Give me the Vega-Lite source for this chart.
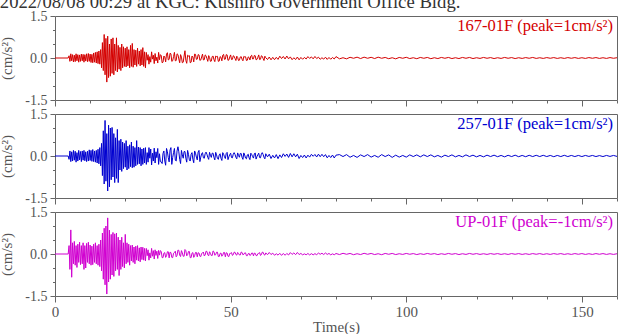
{
  "$schema": "https://vega.github.io/schema/vega-lite/v6.json",
  "padding": {"left": -1, "top": -8, "right": 0, "bottom": 0},
  "datasets": {
    "w": [
      {"t":0,"a":0,"b":0,"c":0},{"t":3.75,"a":0,"b":0,"c":0},
      {"t":4.0,"a":0.08,"b":-0.12,"c":0.3},{"t":4.25,"a":-0.12,"b":0.18,"c":-0.55},{"t":4.5,"a":0.15,"b":-0.2,"c":0.86},{"t":4.75,"a":-0.1,"b":0.15,"c":-0.83},
      {"t":5.0,"a":0.12,"b":-0.18,"c":0.4},{"t":5.25,"a":-0.14,"b":0.2,"c":-0.35},{"t":5.5,"a":0.1,"b":-0.15,"c":0.45},{"t":5.75,"a":-0.13,"b":0.17,"c":-0.4},
      {"t":6.0,"a":0.15,"b":-0.22,"c":0.3},{"t":6.25,"a":-0.1,"b":0.12,"c":-0.48},{"t":6.5,"a":0.12,"b":-0.18,"c":0.35},{"t":6.75,"a":-0.15,"b":0.2,"c":-0.3},
      {"t":7.0,"a":0.11,"b":-0.14,"c":0.42},{"t":7.25,"a":-0.12,"b":0.16,"c":-0.38},{"t":7.5,"a":0.14,"b":-0.2,"c":0.3},{"t":7.75,"a":-0.1,"b":0.18,"c":-0.35},
      {"t":8.0,"a":0.13,"b":-0.15,"c":0.4},{"t":8.25,"a":-0.15,"b":0.2,"c":-0.55},{"t":8.5,"a":0.12,"b":-0.17,"c":0.3},{"t":8.75,"a":-0.11,"b":0.15,"c":-0.5},
      {"t":9.0,"a":0.15,"b":-0.2,"c":0.38},{"t":9.25,"a":-0.13,"b":0.17,"c":-0.3},{"t":9.5,"a":0.16,"b":-0.18,"c":0.42},{"t":9.75,"a":-0.12,"b":0.22,"c":-0.35},
      {"t":10.0,"a":0.14,"b":-0.16,"c":0.32},{"t":10.25,"a":-0.16,"b":0.2,"c":-0.4},{"t":10.5,"a":0.13,"b":-0.19,"c":0.28},{"t":10.75,"a":-0.17,"b":0.23,"c":-0.38},
      {"t":11.0,"a":0.18,"b":-0.2,"c":0.35},{"t":11.25,"a":-0.15,"b":0.18,"c":-0.3},{"t":11.5,"a":0.2,"b":-0.22,"c":0.4},{"t":11.75,"a":-0.18,"b":0.2,"c":-0.35},
      {"t":12.0,"a":0.22,"b":-0.25,"c":0.3},{"t":12.25,"a":-0.2,"b":0.24,"c":-0.4},{"t":12.5,"a":0.25,"b":-0.28,"c":0.35},{"t":12.75,"a":-0.22,"b":0.3,"c":-0.45},
      {"t":13.0,"a":0.3,"b":-0.35,"c":0.5},{"t":13.25,"a":-0.35,"b":0.45,"c":-0.6},{"t":13.5,"a":0.55,"b":-0.7,"c":0.75},{"t":13.75,"a":-0.45,"b":0.9,"c":-0.9},
      {"t":14.0,"a":0.84,"b":-1.0,"c":0.92},{"t":14.25,"a":-0.6,"b":1.27,"c":-1.1},{"t":14.5,"a":0.7,"b":-0.9,"c":1.0},{"t":14.75,"a":-0.86,"b":0.8,"c":-1.43},
      {"t":15.0,"a":0.78,"b":-1.25,"c":1.29},{"t":15.25,"a":-0.7,"b":1.1,"c":-1.0},{"t":15.5,"a":0.5,"b":-1.1,"c":0.85},{"t":15.75,"a":-0.65,"b":1.0,"c":-0.9},
      {"t":16.0,"a":0.68,"b":-0.85,"c":0.7},{"t":16.25,"a":-0.55,"b":1.02,"c":-0.75},{"t":16.5,"a":0.72,"b":-0.75,"c":0.77},{"t":16.75,"a":-0.6,"b":0.8,"c":-0.8},
      {"t":17.0,"a":0.5,"b":-0.95,"c":0.72},{"t":17.25,"a":-0.45,"b":0.65,"c":-0.6},{"t":17.5,"a":0.72,"b":-0.8,"c":0.75},{"t":17.75,"a":-0.5,"b":0.95,"c":-0.55},
      {"t":18.0,"a":0.45,"b":-0.95,"c":0.6},{"t":18.25,"a":-0.4,"b":0.55,"c":-0.77},{"t":18.5,"a":0.38,"b":-0.5,"c":0.5},{"t":18.75,"a":-0.45,"b":0.6,"c":-0.55},
      {"t":19.0,"a":0.5,"b":-0.55,"c":0.6},{"t":19.25,"a":-0.35,"b":0.5,"c":-0.45},{"t":19.5,"a":0.4,"b":-0.45,"c":0.4},{"t":19.75,"a":-0.3,"b":0.45,"c":-0.5},
      {"t":20.0,"a":0.35,"b":-0.4,"c":0.7},{"t":20.25,"a":-0.32,"b":0.55,"c":-0.35},{"t":20.5,"a":0.4,"b":-0.5,"c":0.4},{"t":20.75,"a":-0.28,"b":0.35,"c":-0.3},
      {"t":21.0,"a":0.3,"b":-0.45,"c":0.35},{"t":21.25,"a":-0.35,"b":0.4,"c":-0.4},{"t":21.5,"a":0.45,"b":-0.38,"c":0.3},{"t":21.75,"a":-0.3,"b":0.5,"c":-0.25},
      {"t":22.0,"a":0.52,"b":-0.42,"c":0.32},{"t":22.25,"a":-0.33,"b":0.35,"c":-0.3},{"t":22.5,"a":0.3,"b":-0.4,"c":0.25},{"t":22.75,"a":-0.25,"b":0.3,"c":-0.35},
      {"t":23.0,"a":0.28,"b":-0.35,"c":0.28},{"t":23.25,"a":-0.3,"b":0.55,"c":-0.22},{"t":23.5,"a":0.35,"b":-0.3,"c":0.3},{"t":23.75,"a":-0.22,"b":0.32,"c":-0.25},
      {"t":24.0,"a":0.25,"b":-0.28,"c":0.22},{"t":24.25,"a":-0.28,"b":0.3,"c":-0.28},{"t":24.5,"a":0.3,"b":-0.35,"c":0.25},{"t":24.75,"a":-0.25,"b":0.25,"c":-0.2},
      {"t":25.0,"a":0.37,"b":-0.3,"c":0.24},{"t":25.25,"a":-0.3,"b":0.28,"c":-0.22},{"t":25.5,"a":0.22,"b":-0.25,"c":0.2},{"t":25.75,"a":-0.35,"b":0.3,"c":-0.25},
      {"t":26.0,"a":0.2,"b":-0.3,"c":0.2},{"t":26.25,"a":-0.08,"b":0.12,"c":-0.06},{"t":26.5,"a":0.12,"b":-0.22,"c":0.15},{"t":26.75,"a":-0.22,"b":0.3,"c":-0.22},
      {"t":27.0,"a":0.05,"b":-0.08,"c":0.04},{"t":27.25,"a":-0.15,"b":0.25,"c":-0.14},{"t":27.5,"a":0.22,"b":-0.32,"c":0.2},{"t":27.75,"a":-0.04,"b":0.1,"c":-0.08},
      {"t":28.0,"a":0.1,"b":-0.18,"c":0.12},{"t":28.25,"a":-0.2,"b":0.28,"c":-0.18},{"t":28.5,"a":0.16,"b":-0.25,"c":0.15},{"t":28.75,"a":-0.1,"b":0.15,"c":-0.05},
      {"t":29.0,"a":0.03,"b":-0.06,"c":0.1},{"t":29.25,"a":-0.18,"b":0.27,"c":-0.16},{"t":29.5,"a":0.2,"b":-0.3,"c":0.13},{"t":29.75,"a":-0.06,"b":0.08,"c":-0.04},
      {"t":30.0,"a":0.12,"b":-0.2,"c":0.12},
      {"t":30.5,"a":-0.17,"b":-0.27,"c":-0.13},{"t":31.0,"a":0.07,"b":0.18,"c":0.03},{"t":31.5,"a":-0.14,"b":-0.33,"c":-0.12},{"t":32.0,"a":0.19,"b":0.15,"c":0.08},
      {"t":32.5,"a":-0.05,"b":-0.21,"c":-0.14},{"t":33.0,"a":0.15,"b":0.3,"c":0.05},{"t":33.5,"a":-0.1,"b":-0.06,"c":-0.13},{"t":34.0,"a":0.2,"b":0.27,"c":0.05},
      {"t":34.5,"a":-0.09,"b":-0.18,"c":-0.1},{"t":35.0,"a":0.12,"b":0.33,"c":0.14},{"t":35.5,"a":-0.17,"b":-0.12,"c":-0.04},{"t":36.0,"a":0.03,"b":0.2,"c":0.12},
      {"t":36.5,"a":-0.15,"b":-0.08,"c":-0.08},{"t":37.0,"a":0.26,"b":0.16,"c":0.16},{"t":37.5,"a":-0.19,"b":-0.22,"c":-0.065},{"t":38.0,"a":0.07,"b":0.06,"c":0.09},
      {"t":38.5,"a":-0.17,"b":-0.18,"c":-0.13},{"t":39.0,"a":0.07,"b":0.12,"c":0.03},{"t":39.5,"a":-0.14,"b":-0.24,"c":-0.12},{"t":40.0,"a":0.13,"b":0.1,"c":0.055},
      {"t":40.5,"a":-0.04,"b":-0.14,"c":-0.1},{"t":41.0,"a":0.11,"b":0.2,"c":0.035},{"t":41.5,"a":-0.07,"b":-0.04,"c":-0.09},{"t":42.0,"a":0.14,"b":0.12,"c":0.035},
      {"t":42.5,"a":-0.06,"b":-0.08,"c":-0.07},{"t":43.0,"a":0.08,"b":0.14,"c":0.1},{"t":43.5,"a":-0.12,"b":-0.05,"c":-0.03},{"t":44.0,"a":0.02,"b":0.13,"c":0.08},
      {"t":44.5,"a":-0.11,"b":-0.05,"c":-0.055},{"t":45.0,"a":0.07,"b":0.1,"c":0.11},{"t":45.5,"a":-0.13,"b":-0.14,"c":-0.045},{"t":46.0,"a":0.05,"b":0.04,"c":0.065},
      {"t":46.5,"a":-0.12,"b":-0.12,"c":-0.09},{"t":47.0,"a":0.05,"b":0.08,"c":0.02},{"t":47.5,"a":-0.1,"b":-0.16,"c":-0.08},{"t":48.0,"a":0.13,"b":0.065,"c":0.055},
      {"t":48.5,"a":-0.04,"b":-0.09,"c":-0.1},{"t":49.0,"a":0.11,"b":0.13,"c":0.035},{"t":49.5,"a":-0.07,"b":-0.03,"c":-0.09},{"t":50.0,"a":0.11,"b":0.1,"c":0.025},
      {"t":50.5,"a":-0.05,"b":-0.065,"c":-0.05},{"t":51.0,"a":0.06,"b":0.12,"c":0.065},{"t":51.5,"a":-0.09,"b":-0.045,"c":-0.02},{"t":52.0,"a":0.02,"b":0.11,"c":0.055},
      {"t":52.5,"a":-0.08,"b":-0.045,"c":-0.035},{"t":53.0,"a":0.05,"b":0.09,"c":0.07},{"t":53.5,"a":-0.1,"b":-0.12,"c":-0.03},{"t":54.0,"a":0.04,"b":0.035,"c":0.04},
      {"t":54.5,"a":-0.09,"b":-0.1,"c":-0.06},{"t":55.0,"a":0.04,"b":0.065,"c":0.01},{"t":55.5,"a":-0.07,"b":-0.13,"c":-0.055},{"t":56.0,"a":0.1,"b":0.055,"c":0.035},
      {"t":56.5,"a":-0.03,"b":-0.075,"c":-0.065},{"t":57.0,"a":0.08,"b":0.11,"c":0.025},{"t":57.5,"a":-0.05,"b":-0.02,"c":-0.06},{"t":58.0,"a":0.11,"b":0.1,"c":0.025},
      {"t":58.5,"a":-0.045,"b":-0.065,"c":-0.05},{"t":59.0,"a":0.06,"b":0.12,"c":0.065},{"t":59.5,"a":-0.09,"b":-0.045,"c":-0.02},{"t":60.0,"a":0.01,"b":0.08,"c":0.04},
      {"t":60.5,"a":-0.055,"b":-0.03,"c":-0.025},{"t":61.0,"a":0.035,"b":0.065,"c":0.055},{"t":61.5,"a":-0.065,"b":-0.09,"c":-0.02},{"t":62.0,"a":0.025,"b":0.025,"c":0.03},
      {"t":62.5,"a":-0.06,"b":-0.07,"c":-0.045},{"t":63.0,"a":0.025,"b":0.05,"c":0.01},{"t":63.5,"a":-0.05,"b":-0.095,"c":-0.04},{"t":64.0,"a":0.065,"b":0.04,"c":0.025},
      {"t":64.5,"a":-0.02,"b":-0.055,"c":-0.05},{"t":65.0,"a":0.055,"b":0.08,"c":0.02},{"t":65.5,"a":-0.035,"b":-0.015,"c":-0.045},{"t":66.0,"a":0.07,"b":0.07,"c":0.02},
      {"t":66.5,"a":-0.03,"b":-0.05,"c":-0.035},{"t":67.0,"a":0.04,"b":0.09,"c":0.05},{"t":67.5,"a":-0.06,"b":-0.03,"c":-0.015},{"t":68.0,"a":0.01,"b":0.08,"c":0.04},
      {"t":68.5,"a":-0.055,"b":-0.03,"c":-0.025},{"t":69.0,"a":0.035,"b":0.065,"c":0.055},{"t":69.5,"a":-0.065,"b":-0.09,"c":-0.02},{"t":70.0,"a":0.02,"b":0.02,"c":0.02},
      {"t":70.5,"a":-0.045,"b":-0.055,"c":-0.03},{"t":71.0,"a":0.02,"b":0.035,"c":0.005},{"t":71.5,"a":-0.035,"b":-0.07,"c":-0.027},{"t":72.0,"a":0.05,"b":0.03,"c":0.018},
      {"t":72.5,"a":-0.015,"b":-0.04,"c":-0.033},{"t":73.0,"a":0.04,"b":0.06,"c":0.012},{"t":73.5,"a":-0.03,"b":-0.01,"c":-0.03},{"t":74.0,"a":0.055,"b":0.055,"c":0.012},
      {"t":74.5,"a":-0.02,"b":-0.035,"c":-0.024},{"t":75.0,"a":0.03,"b":0.065,"c":0.033},{"t":75.5,"a":-0.045,"b":-0.025,"c":-0.01},{"t":76.0,"a":0.01,"b":0.06,"c":0.027},
      {"t":76.5,"a":-0.04,"b":-0.025,"c":-0.018},{"t":77.0,"a":0.03,"b":0.05,"c":0.036},{"t":77.5,"a":-0.05,"b":-0.065,"c":-0.015},{"t":78.0,"a":0.02,"b":0.02,"c":0.02},
      {"t":78.5,"a":-0.045,"b":-0.055,"c":-0.03},{"t":79.0,"a":0.02,"b":0.035,"c":0.006},{"t":79.5,"a":-0.035,"b":-0.07,"c":-0.027},{"t":80.0,"a":0.05,"b":0.03,"c":0.018},
      {"t":81,"a":-0.03,"b":0.05,"c":-0.02},{"t":82,"a":0.01,"b":-0.02,"c":0.025},{"t":83,"a":-0.03,"b":0.05,"c":-0.01},{"t":84,"a":0.025,"b":-0.045,"c":0.02},
      {"t":85,"a":-0.01,"b":0.02,"c":-0.025},{"t":86,"a":0.03,"b":-0.05,"c":0.01},{"t":87,"a":-0.02,"b":0.04,"c":-0.02},{"t":88,"a":0.03,"b":-0.02,"c":0.025},
      {"t":89,"a":-0.01,"b":0.05,"c":-0.01},{"t":90,"a":0.025,"b":-0.04,"c":0.02},{"t":91,"a":-0.02,"b":0.02,"c":-0.02},{"t":92,"a":0.03,"b":-0.045,"c":0.01},
      {"t":93,"a":-0.01,"b":0.05,"c":-0.025},{"t":94,"a":0.02,"b":-0.02,"c":0.02},{"t":95,"a":-0.025,"b":0.04,"c":-0.01},{"t":96,"a":0.01,"b":-0.05,"c":0.02},
      {"t":97,"a":-0.03,"b":0.03,"c":-0.02},{"t":98,"a":0.02,"b":-0.04,"c":0.01},{"t":99,"a":-0.01,"b":0.02,"c":-0.015},{"t":100,"a":0.025,"b":-0.04,"c":0.02},
      {"t":101,"a":-0.02,"b":0.04,"c":-0.01},{"t":102,"a":0.01,"b":-0.02,"c":0.015},{"t":103,"a":-0.025,"b":0.04,"c":-0.02},{"t":104,"a":0.02,"b":-0.03,"c":0.01},
      {"t":105,"a":-0.01,"b":0.04,"c":-0.015},{"t":106,"a":0.02,"b":-0.02,"c":0.02},{"t":107,"a":-0.025,"b":0.04,"c":-0.01},{"t":108,"a":0.01,"b":-0.03,"c":0.015},
      {"t":109,"a":-0.02,"b":0.02,"c":-0.02},{"t":110,"a":0.02,"b":-0.04,"c":0.01},{"t":111,"a":-0.01,"b":0.03,"c":-0.015},{"t":112,"a":0.02,"b":-0.02,"c":0.02},
      {"t":113,"a":-0.02,"b":0.04,"c":-0.01},{"t":114,"a":0.01,"b":-0.03,"c":0.015},{"t":115,"a":-0.02,"b":0.02,"c":-0.02},{"t":116,"a":0.02,"b":-0.03,"c":0.01},
      {"t":117,"a":-0.01,"b":0.04,"c":-0.015},{"t":118,"a":0.02,"b":-0.02,"c":0.02},{"t":119,"a":-0.02,"b":0.03,"c":-0.01},{"t":120,"a":0.01,"b":-0.03,"c":0.015},
      {"t":121,"a":-0.015,"b":0.02,"c":-0.015},{"t":122,"a":0.02,"b":-0.03,"c":0.01},{"t":123,"a":-0.01,"b":0.03,"c":-0.015},{"t":124,"a":0.015,"b":-0.02,"c":0.015},
      {"t":125,"a":-0.02,"b":0.03,"c":-0.01},{"t":126,"a":0.01,"b":-0.025,"c":0.015},{"t":127,"a":-0.015,"b":0.02,"c":-0.015},{"t":128,"a":0.02,"b":-0.03,"c":0.01},
      {"t":129,"a":-0.01,"b":0.025,"c":-0.015},{"t":130,"a":0.015,"b":-0.02,"c":0.015},{"t":131,"a":-0.02,"b":0.03,"c":-0.01},{"t":132,"a":0.01,"b":-0.025,"c":0.015},
      {"t":133,"a":-0.015,"b":0.02,"c":-0.015},{"t":134,"a":0.015,"b":-0.025,"c":0.01},{"t":135,"a":-0.01,"b":0.025,"c":-0.015},{"t":136,"a":0.02,"b":-0.02,"c":0.015},
      {"t":137,"a":-0.015,"b":0.025,"c":-0.01},{"t":138,"a":0.01,"b":-0.02,"c":0.015},{"t":139,"a":-0.015,"b":0.025,"c":-0.015},{"t":140,"a":0.015,"b":-0.02,"c":0.01},
      {"t":141,"a":-0.01,"b":0.02,"c":-0.015},{"t":142,"a":0.015,"b":-0.025,"c":0.015},{"t":143,"a":-0.015,"b":0.02,"c":-0.01},{"t":144,"a":0.01,"b":-0.02,"c":0.015},
      {"t":145,"a":-0.015,"b":0.025,"c":-0.015},{"t":146,"a":0.015,"b":-0.02,"c":0.01},{"t":147,"a":-0.01,"b":0.02,"c":-0.015},{"t":148,"a":0.015,"b":-0.02,"c":0.015},
      {"t":149,"a":-0.015,"b":0.02,"c":-0.01},{"t":150,"a":0.01,"b":-0.02,"c":0.015},{"t":151,"a":-0.015,"b":0.02,"c":-0.015},{"t":152,"a":0.015,"b":-0.015,"c":0.01},
      {"t":153,"a":-0.01,"b":0.02,"c":-0.015},{"t":154,"a":0.015,"b":-0.02,"c":0.015},{"t":155,"a":-0.015,"b":0.015,"c":-0.01},{"t":156,"a":0.01,"b":-0.02,"c":0.015},
      {"t":157,"a":-0.015,"b":0.02,"c":-0.015},{"t":158,"a":0.015,"b":-0.015,"c":0.01},{"t":159,"a":-0.01,"b":0.02,"c":-0.015},{"t":160,"a":0.01,"b":-0.015,"c":0.01},
      {"t":30.25,"a":0.085,"b":-0.21,"c":0.09},{"t":30.75,"a":-0.15,"b":0.09,"c":-0.13},{"t":31.25,"a":0.034,"b":-0.18,"c":0.05},{"t":31.75,"a":0.14,"b":0.27,"c":-0.065},
      {"t":32.25,"a":-0.07,"b":-0.06,"c":0.08},{"t":32.75,"a":0.17,"b":0.21,"c":0.065},{"t":33.25,"a":-0.12,"b":-0.3,"c":-0.12},{"t":33.75,"a":0.05,"b":0.12,"c":0.026},
      {"t":34.25,"a":-0.1,"b":-0.15,"c":0.1},{"t":34.75,"a":0.15,"b":0.18,"c":-0.05},{"t":35.25,"a":-0.034,"b":0.15,"c":0.13},{"t":35.75,"a":0.12,"b":-0.27,"c":-0.09},
      {"t":36.25,"a":-0.17,"b":0.04,"c":0.04},{"t":36.75,"a":0.07,"b":0.16,"c":-0.08},{"t":37.25,"a":-0.085,"b":-0.08,"c":0.12},{"t":37.75,"a":0.1,"b":0.2,"c":-0.026},
      {"t":38.25,"a":0.085,"b":-0.14,"c":0.09},{"t":38.75,"a":-0.15,"b":0.06,"c":-0.13},{"t":39.25,"a":0.034,"b":-0.12,"c":0.05},{"t":39.75,"a":0.14,"b":0.18,"c":-0.065},
      {"t":40.25,"a":-0.05,"b":-0.04,"c":0.055},{"t":40.75,"a":0.12,"b":0.14,"c":0.045},{"t":41.25,"a":-0.085,"b":-0.2,"c":-0.08},{"t":41.75,"a":0.035,"b":0.08,"c":0.02},
      {"t":42.25,"a":-0.07,"b":-0.065,"c":0.07},{"t":42.75,"a":0.11,"b":0.08,"c":-0.035},{"t":43.25,"a":-0.025,"b":0.065,"c":0.09},{"t":43.75,"a":0.085,"b":-0.12,"c":-0.065},
      {"t":44.25,"a":-0.12,"b":0.026,"c":0.025},{"t":44.75,"a":0.05,"b":0.1,"c":-0.055},{"t":45.25,"a":-0.06,"b":-0.05,"c":0.08},{"t":45.75,"a":0.07,"b":0.13,"c":-0.02},
      {"t":46.25,"a":0.06,"b":-0.09,"c":0.065},{"t":46.75,"a":-0.11,"b":0.04,"c":-0.09},{"t":47.25,"a":0.025,"b":-0.08,"c":0.035},{"t":47.75,"a":0.1,"b":0.12,"c":-0.045},
      {"t":48.25,"a":-0.05,"b":-0.026,"c":0.055},{"t":48.75,"a":0.12,"b":0.09,"c":0.045},{"t":49.25,"a":-0.085,"b":-0.13,"c":-0.08},{"t":49.75,"a":0.035,"b":0.05,"c":0.02},
      {"t":50.25,"a":-0.055,"b":-0.055,"c":0.05},{"t":50.75,"a":0.08,"b":0.065,"c":-0.025},{"t":51.25,"a":-0.02,"b":0.055,"c":0.06},{"t":51.75,"a":0.065,"b":-0.1,"c":-0.04},
      {"t":52.25,"a":-0.09,"b":0.02,"c":0.02},{"t":52.75,"a":0.035,"b":0.09,"c":-0.035},{"t":53.25,"a":-0.045,"b":-0.045,"c":0.055},{"t":53.75,"a":0.055,"b":0.11,"c":-0.012},
      {"t":54.25,"a":0.045,"b":-0.075,"c":0.04},{"t":54.75,"a":-0.08,"b":0.035,"c":-0.06},{"t":55.25,"a":0.02,"b":-0.065,"c":0.025},{"t":55.75,"a":0.07,"b":0.1,"c":-0.03},
      {"t":56.25,"a":-0.035,"b":-0.02,"c":0.035},{"t":56.75,"a":0.09,"b":0.075,"c":0.03},{"t":57.25,"a":-0.065,"b":-0.11,"c":-0.055},{"t":57.75,"a":0.025,"b":0.045,"c":0.012},
      {"t":58.25,"a":-0.055,"b":-0.055,"c":0.05},{"t":58.75,"a":0.08,"b":0.065,"c":-0.025},{"t":59.25,"a":-0.02,"b":0.055,"c":0.06},{"t":59.75,"a":0.065,"b":-0.1,"c":-0.04}
    ]
  },
  "config": {
    "font": "Liberation Serif",
    "view": {"stroke": "#666666", "strokeWidth": 1},
    "axis": {
      "domain": false,
      "grid": false,
      "tickColor": "#666666",
      "tickWidth": 1,
      "labelOverlap": false,
      "labelFont": "Liberation Serif",
      "labelColor": "#555555",
      "titleFont": "Liberation Serif",
      "titleFontWeight": "normal",
      "titleColor": "#555555"
    },
    "title": {"font": "Liberation Serif", "fontWeight": "normal"}
  },
  "bounds": "flush",
  "spacing": 14,
  "vconcat": [
    {
      "width": 562, "height": 84,
      "title": {"text": "2022/08/08 00:29 at KGC: Kushiro Government Office Bldg.", "anchor": "start", "fontSize": 18.7, "color": "#333333", "offset": -3},
      "resolve": {"axis": {"x": "independent", "y": "independent"}},
      "layer": [
        {
          "data": {"name": "w"},
          "mark": {"type": "line", "color": "#d40000", "strokeWidth": 1},
          "encoding": {
            "x": {"field": "t", "type": "quantitative", "scale": {"domain": [0, 160], "nice": false},
              "axis": {"orient": "bottom", "values": [0,50,100,150], "tickSize": 6, "labels": false, "title": null}},
            "y": {"field": "a", "type": "quantitative", "scale": {"domain": [-1.5, 1.5], "nice": false},
              "axis": {"orient": "left", "values": [-1.5,0,1.5], "tickSize": 5, "title": "(cm/s²)", "titleFontSize": 15, "titlePadding": 10,
                "labelFontSize": 14, "labelPadding": 3,
                "labelExpr": "datum.value === 0 ? '0.0' : datum.value < 0 ? '-1.5' : '1.5'"}}
          }
        },
        {
          "data": {"values": [{"label": "167-01F (peak=1cm/s²)"}]},
          "mark": {"type": "text", "align": "right", "baseline": "top", "dx": -4, "dy": 2, "font": "Liberation Serif", "fontSize": 16.5, "color": "#d40000"},
          "encoding": {
            "x": {"datum": 160, "type": "quantitative", "axis": {"orient": "bottom", "values": [10,20,30,40,60,70,80,90,110,120,130,140,160], "tickSize": 3, "labels": false, "title": null}},
            "y": {"datum": 1.5, "type": "quantitative", "axis": {"orient": "left", "values": [-1,-0.5,0.5,1], "tickSize": 2.5, "labels": false, "title": null}},
            "text": {"field": "label"}
          }
        }
      ]
    },
    {
      "width": 562, "height": 84,
      "resolve": {"axis": {"x": "independent", "y": "independent"}},
      "layer": [
        {
          "data": {"name": "w"},
          "mark": {"type": "line", "color": "#0000d0", "strokeWidth": 1},
          "encoding": {
            "x": {"field": "t", "type": "quantitative", "scale": {"domain": [0, 160], "nice": false},
              "axis": {"orient": "bottom", "values": [0,50,100,150], "tickSize": 6, "labels": false, "title": null}},
            "y": {"field": "b", "type": "quantitative", "scale": {"domain": [-1.5, 1.5], "nice": false},
              "axis": {"orient": "left", "values": [-1.5,0,1.5], "tickSize": 5, "title": "(cm/s²)", "titleFontSize": 15, "titlePadding": 10,
                "labelFontSize": 14, "labelPadding": 3,
                "labelExpr": "datum.value === 0 ? '0.0' : datum.value < 0 ? '-1.5' : '1.5'"}}
          }
        },
        {
          "data": {"values": [{"label": "257-01F (peak=1cm/s²)"}]},
          "mark": {"type": "text", "align": "right", "baseline": "top", "dx": -4, "dy": 2, "font": "Liberation Serif", "fontSize": 16.5, "color": "#0000d0"},
          "encoding": {
            "x": {"datum": 160, "type": "quantitative", "axis": {"orient": "bottom", "values": [10,20,30,40,60,70,80,90,110,120,130,140,160], "tickSize": 3, "labels": false, "title": null}},
            "y": {"datum": 1.5, "type": "quantitative", "axis": {"orient": "left", "values": [-1,-0.5,0.5,1], "tickSize": 2.5, "labels": false, "title": null}},
            "text": {"field": "label"}
          }
        }
      ]
    },
    {
      "width": 562, "height": 84,
      "resolve": {"axis": {"x": "independent", "y": "independent"}},
      "layer": [
        {
          "data": {"name": "w"},
          "mark": {"type": "line", "color": "#d000d0", "strokeWidth": 1},
          "encoding": {
            "x": {"field": "t", "type": "quantitative", "scale": {"domain": [0, 160], "nice": false},
              "axis": {"orient": "bottom", "values": [0,50,100,150], "tickSize": 6, "title": "Time(s)", "titleFontSize": 15, "titlePadding": 0,
                "labelFontSize": 15, "labelPadding": 2, "labelFlush": false}},
            "y": {"field": "c", "type": "quantitative", "scale": {"domain": [-1.5, 1.5], "nice": false},
              "axis": {"orient": "left", "values": [-1.5,0,1.5], "tickSize": 5, "title": "(cm/s²)", "titleFontSize": 15, "titlePadding": 10,
                "labelFontSize": 14, "labelPadding": 3,
                "labelExpr": "datum.value === 0 ? '0.0' : datum.value < 0 ? '-1.5' : '1.5'"}}
          }
        },
        {
          "data": {"values": [{"label": "UP-01F (peak=-1cm/s²)"}]},
          "mark": {"type": "text", "align": "right", "baseline": "top", "dx": -4, "dy": 2, "font": "Liberation Serif", "fontSize": 16.5, "color": "#d000d0"},
          "encoding": {
            "x": {"datum": 160, "type": "quantitative", "axis": {"orient": "bottom", "values": [10,20,30,40,60,70,80,90,110,120,130,140,160], "tickSize": 3, "labels": false, "title": null}},
            "y": {"datum": 1.5, "type": "quantitative", "axis": {"orient": "left", "values": [-1,-0.5,0.5,1], "tickSize": 2.5, "labels": false, "title": null}},
            "text": {"field": "label"}
          }
        }
      ]
    }
  ]
}
